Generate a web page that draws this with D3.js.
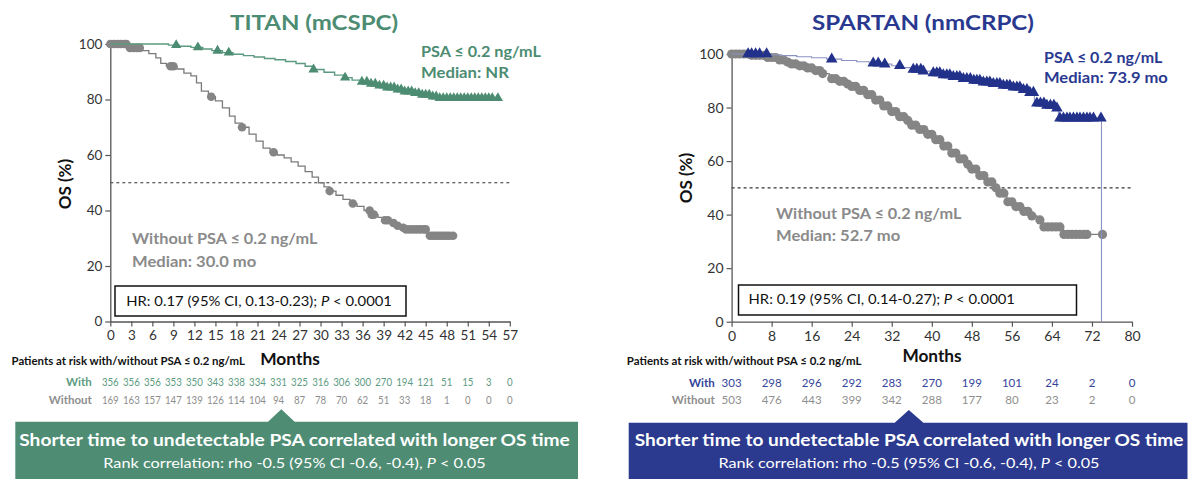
<!DOCTYPE html>
<html><head><meta charset="utf-8">
<script src="https://cdn.jsdelivr.net/npm/d3@7"></script>
<style>body{margin:0;background:#fff;} svg{display:block;font-family:Lato,'Open Sans',sans-serif;}</style>
</head><body><svg id="c" width="1200" height="481"></svg>
<script>
// ---------- DATA ----------
const yTicks = [0, 20, 40, 60, 80, 100];
const titanXTicks = [0,3,6,9,12,15,18,21,24,27,30,33,36,39,42,45,48,51,54,57];
const spartanXTicks = [0,8,16,24,32,40,48,56,64,72,80];

// TITAN, with PSA <= 0.2 (step curve + censor times)
const titanWithTimes = [0, 8.3, 9.8, 11.5, 13.2, 14.5, 16, 17.5, 19, 20.5, 22, 23.5, 25, 26.5, 27.8, 29, 30.5, 32, 33.3, 34.5, 35.7, 37, 38.2, 39.5, 40.8, 42, 43.2, 44.4, 45.6, 47, 55.3];
const titanWithSurv  = [100, 99.6, 99.2, 98.8, 98.2, 97.6, 96.9, 96.3, 95.8, 95.3, 94.8, 94.3, 93.7, 93.0, 92.0, 90.8, 89.8, 88.8, 87.9, 87.0, 86.4, 85.7, 85.0, 84.3, 83.6, 82.9, 82.3, 81.7, 81.1, 80.5, 80.5];
const titanWithCensor = [9.4, 12.5, 15.3, 16.9, 29.0, 33.5, 35.9, 36.6, 37.2, 37.8, 38.4, 39.0, 39.5, 40.0, 40.5, 41.0, 41.5, 42.0, 42.5, 43.0, 43.5, 44.0, 44.5, 45.0, 45.5, 46.0, 46.5, 47.0, 47.5, 48.0, 48.5, 49.0, 49.5, 50.0, 50.5, 51.0, 51.5, 52.0, 52.5, 53.0, 53.5, 54.0, 54.5, 55.3];

// TITAN, without PSA <= 0.2
const titanWithoutTimes = [0, 2.5, 4.5, 5.5, 6.5, 7.2, 8, 9.5, 10.5, 11.5, 12.3, 13, 14, 15, 16, 17, 17.8, 18.8, 19.8, 20.8, 21.8, 22.8, 23.8, 24.8, 25.8, 26.8, 27.8, 28.8, 29.7, 30.5, 31.3, 32.2, 33.2, 34.2, 35.2, 36.2, 37.2, 38.2, 39.2, 40, 40.8, 41.6, 42.2, 45.2, 49];
const titanWithoutSurv  = [100, 98.6, 97.6, 96.5, 95, 93, 92, 91, 89.5, 88.5, 86, 83, 81, 79.5, 77, 74, 71.5, 70, 67.5, 65, 62.5, 61, 60, 59, 57.5, 56, 54, 52, 50, 48.5, 47, 45.5, 44, 42.5, 41.5, 40, 38.5, 37.5, 36.5, 35.5, 34.5, 33.8, 33.2, 30.9, 30.9];
const titanWithoutCensor = [0, 0.5, 1, 1.5, 2, 2.3, 2.8, 3.3, 3.8, 4.2, 8.6, 9.0, 14.4, 18.8, 23.3, 31.3, 34.6, 37.0, 37.3, 37.6, 39.2, 39.6, 40.4, 41.0, 41.8, 42.2, 42.7, 43.2, 43.7, 44.2, 44.7, 45.0, 45.6, 46.0, 46.4, 46.8, 47.2, 47.6, 48.0, 48.4, 48.9];

// SPARTAN, with PSA <= 0.2
const spartanWithTimes = [0, 7.5, 10, 13, 16, 19, 22, 25, 27.5, 30, 32, 34, 36, 38, 40, 42, 44, 46, 48, 50, 52, 54, 56, 58, 59.5, 60.5, 62.5, 64.5, 65.3, 73.9];
const spartanWithSurv  = [100, 99.7, 99.4, 99.0, 98.6, 98.1, 97.6, 97.1, 96.6, 96.2, 95.6, 94.9, 94.2, 93.6, 92.9, 92.2, 91.5, 90.8, 90.1, 89.5, 88.9, 88.3, 87.6, 86.7, 85.6, 81.6, 80.8, 79.8, 76.0, 0];
const spartanWithCensor = [3.3, 4.0, 4.8, 5.6, 7.0, 20.0, 28.3, 29.3, 30.6, 33.6, 36.3, 37.0, 37.8, 38.3, 40.3, 41.0, 41.6, 42.3, 43.0, 43.6, 44.3, 45.0, 45.6, 46.3, 47.0, 47.7, 48.4, 49.0, 49.6, 50.3, 51.0, 51.6, 52.3, 53.0, 53.6, 54.3, 55.0, 55.6, 56.3, 57.0, 57.6, 58.3, 59.0, 59.6, 60.3, 61.0, 61.7, 62.4, 63.0, 63.7, 64.4, 65.0, 65.6, 66.3, 67.0, 67.6, 68.3, 69.0, 69.6, 70.3, 71.0, 71.6, 72.3, 73.8];

// SPARTAN, without PSA <= 0.2
const spartanWithoutTimes = [0, 4, 7, 9, 10.5, 12, 13.5, 15, 16.5, 18, 19.5, 21, 22.5, 24, 25.5, 27, 28.5, 30, 31.5, 33, 34.5, 36, 37.5, 39, 40.5, 42, 43.5, 45, 46.5, 48, 49.5, 51, 52.5, 53.5, 55, 56.5, 58, 59.5, 61, 62, 66.3, 74.1];
const spartanWithoutSurv  = [100, 99.5, 98.7, 97.8, 97, 96.3, 95.6, 94.8, 93.8, 92.7, 90.8, 89.8, 88.8, 87.9, 86.4, 84.8, 82.8, 80.6, 78.5, 76.6, 75.2, 73.4, 71.8, 70, 68, 65.6, 63, 60.8, 58.8, 57, 54.6, 52.2, 50, 48, 44.8, 43, 41.2, 39.5, 38, 35.4, 32.6, 32.6];
const spartanWithoutCensor = [0, 0.8, 1.6, 2.4, 3.2, 4.0, 4.8, 5.6, 6.4, 7.2, 8.0, 8.8, 9.6, 10.4, 11.2, 12.0, 12.8, 13.6, 14.4, 15.2, 16.0, 16.8, 17.6, 18.2, 20.0, 20.8, 21.6, 22.4, 23.2, 24.0, 24.8, 25.6, 26.4, 27.2, 28.0, 28.8, 29.6, 30.4, 31.2, 32.0, 32.8, 33.6, 34.4, 35.2, 36.0, 36.8, 37.6, 38.4, 39.2, 40.0, 40.8, 41.6, 42.4, 43.2, 44.0, 44.8, 45.6, 46.4, 47.2, 48.0, 48.8, 49.6, 50.4, 51.2, 52.0, 52.8, 53.6, 54.4, 55.2, 56.0, 56.8, 57.6, 58.4, 59.2, 60.0, 61.6, 62.4, 63.2, 64.0, 64.8, 65.6, 66.4, 67.2, 68.0, 68.8, 69.6, 70.4, 71.0, 74.1];

// Patients at risk
const titanRiskWith    = [356,356,356,353,350,343,338,334,331,325,316,306,300,270,194,121,51,15,3,0];
const titanRiskWithout = [169,163,157,147,139,126,114,104,94,87,78,70,62,51,33,18,1,0,0,0];
const spartanRiskWith    = [303,298,296,292,283,270,199,101,24,2,0];
const spartanRiskWithout = [503,476,443,399,342,288,177,80,23,2,0];

// ---------- DRAWING ----------
const svg = d3.select('#c');

function label(parent, x, y, parts, o) {
  o = o || {};
  const g = parent.append('g').attr('transform', `translate(${x},${y})`);
  const t = g.append('text').attr('x', 0).attr('y', 0)
    .attr('text-anchor', o.anchor || 'start')
    .attr('font-size', o.size || 14)
    .attr('font-weight', o.weight || 400)
    .attr('fill', o.fill || '#222');
  (Array.isArray(parts) ? parts : [[parts]]).forEach(p => {
    t.append('tspan').text(p[0]).attr('font-style', p[1] ? 'italic' : 'normal');
  });
  if (o.w) {
    const w = t.node().getComputedTextLength();
    if (w > 0) g.attr('transform', `translate(${x},${y}) scale(${o.w / w},1)`);
  } else if (o.sx) {
    g.attr('transform', `translate(${x},${y}) scale(${o.sx},1)`);
  }
  return g;
}

function survAt(times, surv, t) {
  const i = d3.bisectRight(times, t) - 1;
  return surv[Math.max(0, i)];
}

function drawPanel(p) {
  const x = d3.scaleLinear().domain([0, p.xMax]).range([p.x0, p.x1]);
  const y = d3.scaleLinear().domain([0, 100]).range([p.y0, p.y1]);
  const g = svg.append('g');

  g.append('line').attr('x1', x(0)).attr('x2', x(p.xMax)).attr('y1', y(50)).attr('y2', y(50))
    .attr('stroke', '#333').attr('stroke-width', 1.2).attr('stroke-dasharray', '3,3');

  const ax = g.append('g').attr('transform', `translate(0,${y(0)})`)
    .call(d3.axisBottom(x).tickValues(p.xTicks).tickSize(5).tickSizeOuter(0).tickPadding(4));
  const ay = g.append('g').attr('transform', `translate(${x(0)},0)`)
    .call(d3.axisLeft(y).tickValues(yTicks).tickSize(5).tickSizeOuter(0).tickPadding(3));
  [ax, ay].forEach(a => {
    a.select('.domain').attr('stroke', '#555').attr('stroke-width', 1.3);
    a.selectAll('.tick line').attr('stroke', '#555').attr('stroke-width', 1.2);
    a.selectAll('.tick text').attr('font-family', 'Lato, sans-serif').attr('font-size', p.tickFont).attr('fill', '#333');
  });

  const line = d3.line().curve(d3.curveStepAfter).x(d => x(d[0])).y(d => y(d[1]));

  const woPts = p.woTimes.map((t, i) => [t, p.woSurv[i]]);
  g.append('path').attr('d', line(woPts)).attr('fill', 'none').attr('stroke', '#7b7b7b').attr('stroke-width', 1.3);
  g.selectAll(null).data(p.woCensor).enter().append('circle')
    .attr('cx', d => x(d)).attr('cy', d => y(survAt(p.woTimes, p.woSurv, d)))
    .attr('r', p.circR).attr('fill', '#858585');

  const wPts = p.wTimes.map((t, i) => [t, p.wSurv[i]]);
  g.append('path').attr('d', line(wPts)).attr('fill', 'none').attr('stroke', p.lineColor).attr('stroke-width', p.lineW);
  const tri = d3.symbol(d3.symbolTriangle, p.triSize);
  g.selectAll(null).data(p.wCensor).enter().append('path')
    .attr('d', tri)
    .attr('transform', d => `translate(${x(d)},${y(survAt(p.wTimes, p.wSurv, d))})`)
    .attr('fill', p.triColor);

  p.xTicks.forEach((t, i) => {
    label(g, x(t), p.riskY1, String(p.riskWith[i]), {anchor: 'middle', size: p.riskFont, fill: p.riskWithColor, sx: p.riskSx});
    label(g, x(t), p.riskY2, String(p.riskWithout[i]), {anchor: 'middle', size: p.riskFont, fill: '#8e8e8e', sx: p.riskSx});
  });
  return {x, y, g};
}

const GREEN = '#4c8c72', BLUE = '#2a3990', GRAY = '#8a8a8a';

// ---- Left panel (TITAN)
drawPanel({
  x0: 110.3, x1: 509.8, xMax: 57, y0: 321.5, y1: 44, xTicks: titanXTicks, tickFont: 13.5,
  woTimes: titanWithoutTimes, woSurv: titanWithoutSurv, woCensor: titanWithoutCensor, circR: 4.3,
  wTimes: titanWithTimes, wSurv: titanWithSurv, wCensor: titanWithCensor,
  lineColor: '#5b9a80', lineW: 1.4, triSize: 46, triColor: '#4c8c72',
  riskWith: titanRiskWith, riskWithout: titanRiskWithout, riskWithColor: '#5d9b82', riskY1: 386, riskY2: 403.5,
  riskFont: 11, riskSx: 0.88
});
label(svg, 314, 30, 'TITAN (mCSPC)', {anchor: 'middle', size: 21, weight: 700, fill: GREEN, w: 168});
label(svg, 421, 57, 'PSA ≤ 0.2 ng/mL', {size: 14.5, weight: 700, fill: GREEN, w: 120});
label(svg, 421, 77.7, 'Median: NR', {size: 14.5, weight: 700, fill: GREEN, w: 88});
label(svg, 132, 244.3, 'Without PSA ≤ 0.2 ng/mL', {size: 14.5, weight: 700, fill: GRAY, w: 185.6});
label(svg, 132, 266.7, 'Median: 30.0 mo', {size: 14.5, weight: 700, fill: GRAY, w: 124.4});
svg.append('rect').attr('x', 115).attr('y', 286).attr('width', 291).attr('height', 30)
  .attr('fill', '#fff').attr('stroke', '#111').attr('stroke-width', 1.5);
label(svg, 126.3, 306, [['HR: 0.17 (95% CI, 0.13-0.23); '], ['P', true], [' < 0.0001']], {size: 13.5, fill: '#111', w: 266});
svg.append('text').attr('transform', 'translate(71,184) rotate(-90)').attr('text-anchor', 'middle')
  .attr('font-size', 17).attr('font-weight', 700).attr('fill', '#111').text('OS (%)');
label(svg, 290, 365, 'Months', {anchor: 'middle', size: 17, weight: 700, fill: '#111', w: 59.6});
label(svg, 11.5, 365, 'Patients at risk with/without PSA ≤ 0.2 ng/mL', {size: 10.5, weight: 700, fill: '#111', w: 233.5});
label(svg, 91.8, 386, 'With', {anchor: 'end', size: 11.5, weight: 700, fill: '#5d9b82'});
label(svg, 91.8, 403.5, 'Without', {anchor: 'end', size: 11.5, weight: 700, fill: '#8e8e8e'});

// ---- Right panel (SPARTAN)
drawPanel({
  x0: 731.6, x1: 1132, xMax: 80, y0: 321.7, y1: 54, xTicks: spartanXTicks, tickFont: 14,
  woTimes: spartanWithoutTimes, woSurv: spartanWithoutSurv, woCensor: spartanWithoutCensor, circR: 4.6,
  wTimes: spartanWithTimes, wSurv: spartanWithSurv, wCensor: spartanWithCensor,
  lineColor: '#8a92c2', lineW: 1.1, triSize: 58, triColor: '#22318a',
  riskWith: spartanRiskWith, riskWithout: spartanRiskWithout, riskWithColor: '#34449a', riskY1: 386.7, riskY2: 404,
  riskFont: 11.5, riskSx: 1
});
label(svg, 923, 30, 'SPARTAN (nmCRPC)', {anchor: 'middle', size: 21, weight: 700, fill: BLUE, w: 222});
label(svg, 1044, 63.3, 'PSA ≤ 0.2 ng/mL', {size: 14.5, weight: 700, fill: BLUE, w: 118.6});
label(svg, 1044, 83.3, 'Median: 73.9 mo', {size: 14.5, weight: 700, fill: BLUE, w: 124});
label(svg, 776, 219, 'Without PSA ≤ 0.2 ng/mL', {size: 14.5, weight: 700, fill: GRAY, w: 185.6});
label(svg, 776, 240.7, 'Median: 52.7 mo', {size: 14.5, weight: 700, fill: GRAY, w: 124.4});
svg.append('rect').attr('x', 738.5).attr('y', 285).attr('width', 338).attr('height', 30)
  .attr('fill', '#fff').attr('stroke', '#111').attr('stroke-width', 1.5);
label(svg, 748.5, 304.3, [['HR: 0.19 (95% CI, 0.14-0.27); '], ['P', true], [' < 0.0001']], {size: 13.5, fill: '#111', w: 266.7});
svg.append('text').attr('transform', 'translate(692,178) rotate(-90)').attr('text-anchor', 'middle')
  .attr('font-size', 17).attr('font-weight', 700).attr('fill', '#111').text('OS (%)');
label(svg, 932, 361.7, 'Months', {anchor: 'middle', size: 17, weight: 700, fill: '#111', w: 59.3});
label(svg, 626.8, 365, 'Patients at risk with/without PSA ≤ 0.2 ng/mL', {size: 10.5, weight: 700, fill: '#111', w: 235});
label(svg, 714.8, 386.7, 'With', {anchor: 'end', size: 11.5, weight: 700, fill: '#34449a'});
label(svg, 714.8, 404, 'Without', {anchor: 'end', size: 11.5, weight: 700, fill: '#8e8e8e'});

// ---- Banners
function banner(x0, x1, top, bottom, px0, px1, apexX, apexY, color, cx, w1, w2) {
  svg.append('path').attr('d', `M${x0},${top}L${px0},${top}L${apexX},${apexY}L${px1},${top}L${x1},${top}L${x1},${bottom}L${x0},${bottom}Z`)
    .attr('fill', color);
  label(svg, cx, 446, 'Shorter time to undetectable PSA correlated with longer OS time', {anchor: 'middle', size: 17.5, weight: 700, fill: '#fff', w: w1});
  label(svg, cx, 468.3, [['Rank correlation: rho -0.5 (95% CI -0.6, -0.4), '], ['P', true], [' < 0.05']], {anchor: 'middle', size: 14, fill: '#fff', w: w2});
}
banner(15.3, 578, 421.7, 479, 268, 294.7, 281.3, 409.3, '#4e8d74', 294.5, 551, 383);
banner(628.7, 1187.5, 422.7, 479, 894.7, 923.4, 908.8, 410, '#2b3a8f', 909, 549, 381.5);
</script>
</body></html>
